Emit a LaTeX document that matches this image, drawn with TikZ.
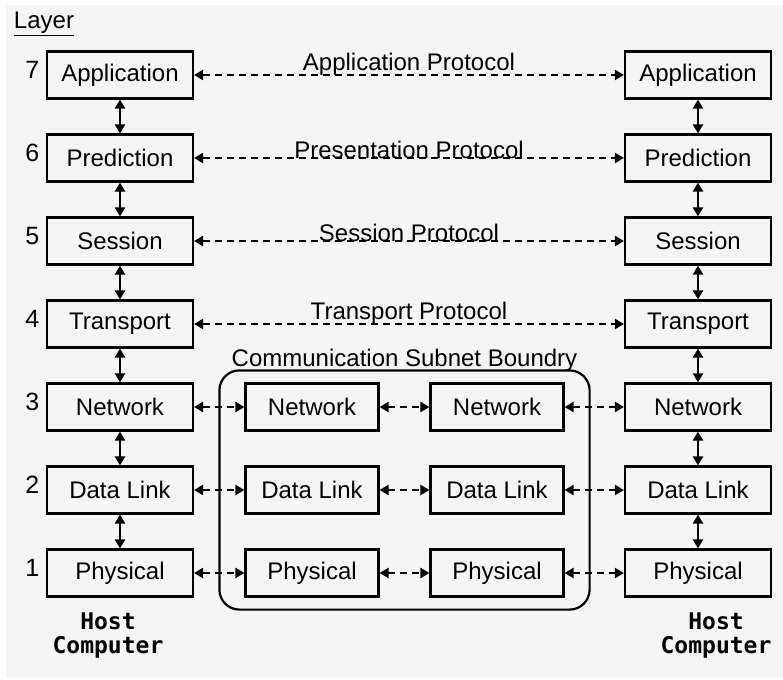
\documentclass[tikz,border=0pt]{standalone}
\usepackage{fontspec}
\setmainfont{Liberation Sans}
\newfontfamily\hostfont{DejaVu Sans Mono}
\usetikzlibrary{arrows.meta,fit}
\definecolor{paper}{HTML}{F5F5F5}

\begin{document}
\begin{tikzpicture}[
  x=1pt,y=1pt,
  >={Triangle[length=9pt,width=10pt]},
  layerbox/.style={draw,line width=2.2pt,minimum width=146pt,minimum height=47pt,
    font=\fontsize{24}{26}\selectfont},
  subbox/.style={layerbox,minimum width=133pt},
  peer/.style={<->,line width=2.2pt,dash pattern=on 7pt off 5pt},
  stack/.style={<->,line width=2.8pt},
  proto/.style={midway,above=-2pt,inner sep=0pt,font=\fontsize{24}{26}\selectfont},
  numlabel/.style={anchor=east,font=\fontsize{25}{27}\selectfont},
  hostlabel/.style={align=center,font=\hostfont\bfseries\fontsize{23}{24}\selectfont}
]
\useasboundingbox (0,0) rectangle (783,-679);
\fill[paper] (6,-5) rectangle (783,-678);

% host computer on the left
\node[layerbox] (app) at (120,-75) {Application};
\node[layerbox] (pre) [below of=app,node distance=83pt] {Prediction};
\node[layerbox] (ses) [below of=pre,node distance=83pt] {Session};
\node[layerbox] (tra) [below of=ses,node distance=83pt] {Transport};
\node[layerbox] (net) [below of=tra,node distance=83pt] {Network};
\node[layerbox] (dat) [below of=net,node distance=83pt] {Data Link};
\node[layerbox] (phy) [below of=dat,node distance=83pt] {Physical};

% host computer on the right
\node[layerbox] (app2) [right of=app,node distance=578pt] {Application};
\node[layerbox] (pre2) [right of=pre,node distance=578pt] {Prediction};
\node[layerbox] (ses2) [right of=ses,node distance=578pt] {Session};
\node[layerbox] (tra2) [right of=tra,node distance=578pt] {Transport};
\node[layerbox] (net2) [right of=net,node distance=578pt] {Network};
\node[layerbox] (dat2) [right of=dat,node distance=578pt] {Data Link};
\node[layerbox] (phy2) [right of=phy,node distance=578pt] {Physical};

% routers inside the subnet
\node[subbox] (netA) [right of=net,node distance=192pt] {Network};
\node[subbox] (netB) [right of=netA,node distance=185pt] {Network};
\node[subbox] (datA) [right of=dat,node distance=192pt] {Data Link};
\node[subbox] (datB) [right of=datA,node distance=185pt] {Data Link};
\node[subbox] (phyA) [right of=phy,node distance=192pt] {Physical};
\node[subbox] (phyB) [right of=phyA,node distance=185pt] {Physical};

\node[draw,line width=2.2pt,rounded corners=20pt,fit=(netA)(phyB),
  inner xsep=25pt,inner ysep=12pt] (subnet) {};
\node[anchor=base,font=\fontsize{24}{26}\selectfont] (sublabel)
  at ([yshift=3pt]subnet.north) {Communication Subnet Boundry};

% layer numbers
\node[font=\fontsize{24}{26}\selectfont] (layer) at (44,-24) {\underline{Layer}};
\node[numlabel] (n7) at ([xshift=-3pt,yshift=5pt]app.west) {7};
\node[numlabel] (n6) at ([xshift=-3pt,yshift=5pt]pre.west) {6};
\node[numlabel] (n5) at ([xshift=-3pt,yshift=5pt]ses.west) {5};
\node[numlabel] (n4) at ([xshift=-3pt,yshift=5pt]tra.west) {4};
\node[numlabel] (n3) at ([xshift=-3pt,yshift=5pt]net.west) {3};
\node[numlabel] (n2) at ([xshift=-3pt,yshift=5pt]dat.west) {2};
\node[numlabel] (n1) at ([xshift=-3pt,yshift=5pt]phy.west) {1};

\node[hostlabel] (host1) [below of=phy,node distance=62pt,xshift=-12pt] {Host\\Computer};
\node[hostlabel] (host2) [below of=phy2,node distance=62pt,xshift=18pt] {Host\\Computer};

% stacks
\draw[stack] (app) -- (pre);
\draw[stack] (pre) -- (ses);
\draw[stack] (ses) -- (tra);
\draw[stack] (tra) -- (net);
\draw[stack] (net) -- (dat);
\draw[stack] (dat) -- (phy);
\draw[stack] (app2) -- (pre2);
\draw[stack] (pre2) -- (ses2);
\draw[stack] (ses2) -- (tra2);
\draw[stack] (tra2) -- (net2);
\draw[stack] (net2) -- (dat2);
\draw[stack] (dat2) -- (phy2);

% peer protocols
\draw[peer] (app) -- (app2) node[proto] {Application Protocol};
\draw[peer] (pre) -- (pre2) node[proto] {Presentation Protocol};
\draw[peer] (ses) -- (ses2) node[proto] {Session Protocol};
\draw[peer] (tra) -- (tra2) node[proto] {Transport Protocol};

\draw[peer] (net) -- (netA);
\draw[peer] (netA) -- (netB);
\draw[peer] (netB) -- (net2);
\draw[peer] (dat) -- (datA);
\draw[peer] (datA) -- (datB);
\draw[peer] (datB) -- (dat2);
\draw[peer] (phy) -- (phyA);
\draw[peer] (phyA) -- (phyB);
\draw[peer] (phyB) -- (phy2);
\end{tikzpicture}
\end{document}
